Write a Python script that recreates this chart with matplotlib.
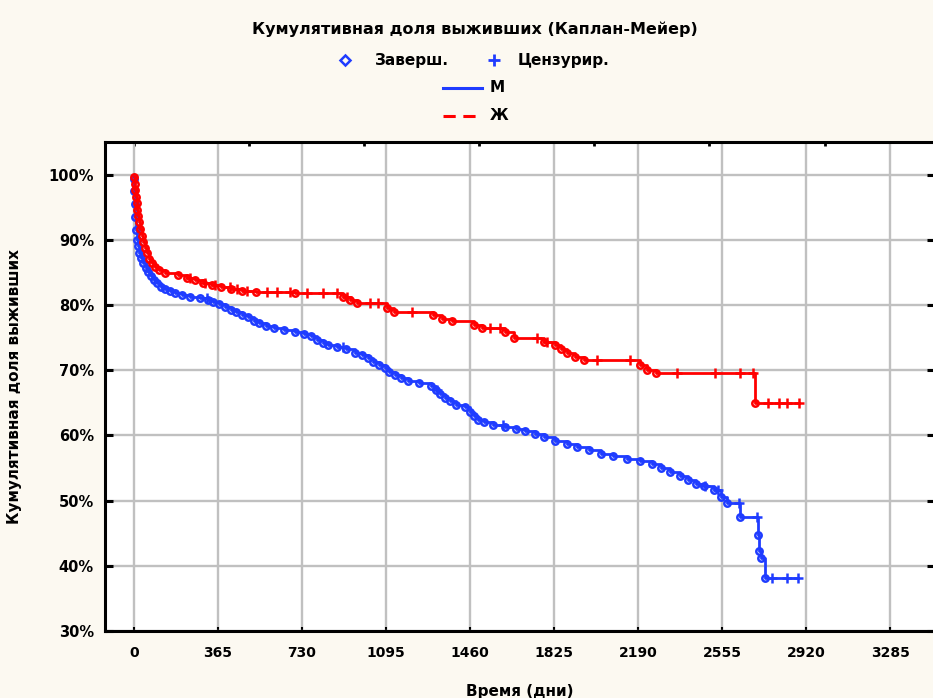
import numpy as np
import matplotlib
matplotlib.use("Agg")
import matplotlib.pyplot as plt
from matplotlib.lines import Line2D

plt.rcParams['font.family'] = ['DejaVu Sans']

# Kaplan-Meier estimates: event times (days) and cumulative survival (%) after each event
male_t = [0, 2, 4, 6, 9, 12, 16, 22, 30, 40, 50, 60, 72, 85, 100, 118, 135, 155, 180, 210,
          245, 285, 320, 345, 370, 395, 420, 445, 470, 495, 520, 545, 575, 610, 650, 700,
          740, 770, 795, 820, 845, 880, 920, 960, 990, 1015, 1040, 1065, 1090, 1110, 1135,
          1160, 1190, 1240, 1290, 1310, 1330, 1350, 1375, 1400, 1440, 1460, 1475, 1495, 1520,
          1560, 1610, 1660, 1700, 1740, 1780, 1830, 1880, 1925, 1975, 2030, 2080, 2140, 2200,
          2250, 2290, 2330, 2370, 2405, 2440, 2475, 2520, 2550, 2575, 2633, 2711, 2716, 2725,
          2742]
male_s = [99.3, 97.5, 95.5, 93.5, 91.5, 90.0, 89.0, 88.0, 87.2, 86.4, 85.7, 85.0, 84.4, 83.8,
          83.3, 82.8, 82.4, 82.1, 81.8, 81.6, 81.3, 81.1, 80.8, 80.5, 80.1, 79.7, 79.3, 78.9,
          78.5, 78.1, 77.6, 77.2, 76.8, 76.5, 76.2, 75.9, 75.6, 75.2, 74.7, 74.2, 73.8, 73.5,
          73.2, 72.7, 72.3, 71.8, 71.3, 70.8, 70.3, 69.8, 69.3, 68.8, 68.4, 68.0, 67.6, 67.0,
          66.4, 65.8, 65.2, 64.7, 64.3, 63.6, 63.0, 62.4, 62.0, 61.6, 61.3, 61.0, 60.6, 60.2,
          59.7, 59.2, 58.7, 58.2, 57.7, 57.2, 56.8, 56.4, 56.1, 55.6, 55.0, 54.4, 53.8, 53.2,
          52.6, 52.2, 51.6, 50.6, 49.6, 47.5, 44.8, 42.2, 41.2, 38.2]
male_cens = [317, 908, 1316, 1603, 2480, 2537, 2630, 2708, 2770, 2837, 2885]

female_t = [0, 3, 6, 9, 12, 15, 18, 22, 28, 34, 40, 47, 55, 65, 78, 92, 110, 135, 190, 230,
            265, 300, 340, 380, 420, 470, 530, 700, 910, 940, 970, 1100, 1130, 1300, 1340,
            1380, 1475, 1510, 1610, 1650, 1780, 1830, 1855, 1880, 1915, 1955, 2200, 2230,
            2270, 2698]
female_s = [99.6, 98.6, 97.6, 96.6, 95.6, 94.6, 93.6, 92.7, 91.7, 90.6, 89.6, 88.7, 87.9, 87.1,
            86.4, 85.8, 85.3, 84.9, 84.6, 84.2, 83.8, 83.4, 83.0, 82.7, 82.4, 82.1, 82.0, 81.8,
            81.3, 80.8, 80.3, 79.6, 79.0, 78.4, 77.9, 77.5, 77.0, 76.5, 75.8, 75.0, 74.4, 73.8,
            73.2, 72.6, 72.1, 71.5, 70.8, 70.1, 69.5, 65.0]
female_cens = [243, 308, 352, 417, 447, 491, 578, 621, 678, 752, 821, 882, 925, 1025, 1060,
               1208, 1547, 1590, 1751, 1794, 2012, 2155, 2359, 2525, 2633, 2690, 2755, 2802,
               2837, 2890]

x_ticks = [0, 365, 730, 1095, 1460, 1825, 2190, 2555, 2920, 3285]
y_ticks = [30, 40, 50, 60, 70, 80, 90, 100]

title = "Кумулятивная доля выживших (Каплан-Мейер)"
x_label = "Время (дни)"
y_label = "Кумулятивная доля выживших"

BLUE = "#1f3cff"
RED = "#ff0000"
BG = "#fcf9f1"

W, H = 933, 698
fig = plt.figure(figsize=(W / 100, H / 100), dpi=100, facecolor=BG)
ax = fig.add_axes([105 / W, (H - 631) / H, (935 - 105) / W, (631 - 142) / H])
ax.set_facecolor("white")


def survival_at(times, surv, t):
    idx = np.searchsorted(np.asarray(times), t, side="right") - 1
    return np.where(idx < 0, 100.0, np.asarray(surv)[np.clip(idx, 0, None)])


def draw_group(times, surv, cens, color, z):
    end = max(cens[-1], times[-1])
    st = [0] + list(times) + [end]
    ss = [100.0] + list(surv) + [surv[-1]]
    ax.step(st, ss, where="post", color=color, lw=2.0, zorder=z, solid_capstyle="butt")
    ax.plot(times, surv, linestyle="none", marker="o", ms=4.6, mfc="none",
            mec=color, mew=1.8, zorder=z + 0.1)
    ax.plot(cens, survival_at(times, surv, cens), linestyle="none", marker="+",
            ms=7, mew=1.8, color=color, zorder=z + 0.2)


draw_group(male_t, male_s, male_cens, BLUE, 3)
draw_group(female_t, female_s, female_cens, RED, 4)

ax.set_xlim(-126, 3480)
ax.set_ylim(30, 105)
ax.set_xticks(x_ticks)
ax.set_xticklabels([str(v) for v in x_ticks])
ax.set_yticks(y_ticks)
ax.set_yticklabels([f"{v}%" for v in y_ticks])
ax.grid(True, color="#c0c0c0", lw=1.7, zorder=0)
ax.set_axisbelow(True)
for side in ("left", "bottom", "top"):
    ax.spines[side].set_linewidth(2.2)
    ax.spines[side].set_color("black")
ax.spines["right"].set_visible(False)
ax.tick_params(axis="y", direction="in", length=6, width=2.2, pad=8,
               labelsize=10.5, right=True)
ax.tick_params(axis="x", direction="in", length=3, width=1.5, pad=11, labelsize=10)
for lab in ax.get_xticklabels() + ax.get_yticklabels():
    lab.set_fontweight("bold")

top = ax.secondary_xaxis("top")
top.set_xticks(np.arange(0, 3001, 500))
top.tick_params(direction="in", length=3, width=2, labeltop=False)
top.spines["top"].set_visible(False)

ax.set_xlabel(x_label, fontsize=11, fontweight="bold", labelpad=17)
ax.set_ylabel(y_label, fontsize=11, fontweight="bold", labelpad=19)

# title and legend drawn in figure pixel coordinates
def fy(py):
    return 1 - py / H

fig.text(475 / W, fy(29), title, ha="center", va="center", fontsize=11.5, fontweight="bold")

fig.add_artist(Line2D([345 / W], [fy(60)], marker="D", ms=5, mfc="none", mec=BLUE, mew=1.8,
                      transform=fig.transFigure))
fig.text(375 / W, fy(60), "Заверш.", ha="left", va="center", fontsize=11, fontweight="bold")
fig.add_artist(Line2D([494 / W], [fy(60)], marker="+", ms=8, mew=2, color=BLUE,
                      transform=fig.transFigure))
fig.text(518 / W, fy(60), "Цензурир.", ha="left", va="center", fontsize=11, fontweight="bold")

fig.add_artist(Line2D([443 / W, 482 / W], [fy(88), fy(88)], color=BLUE, lw=2.2,
                      transform=fig.transFigure))
fig.text(490 / W, fy(88), "М", ha="left", va="center", fontsize=11, fontweight="bold")
fig.add_artist(Line2D([443 / W, 482 / W], [fy(116), fy(116)], color=RED, lw=2.2,
                      linestyle=(0, (4, 2.5)), transform=fig.transFigure))
fig.text(490 / W, fy(116), "Ж", ha="left", va="center", fontsize=11, fontweight="bold")

fig.savefig("out.png", dpi=100, facecolor=BG)
